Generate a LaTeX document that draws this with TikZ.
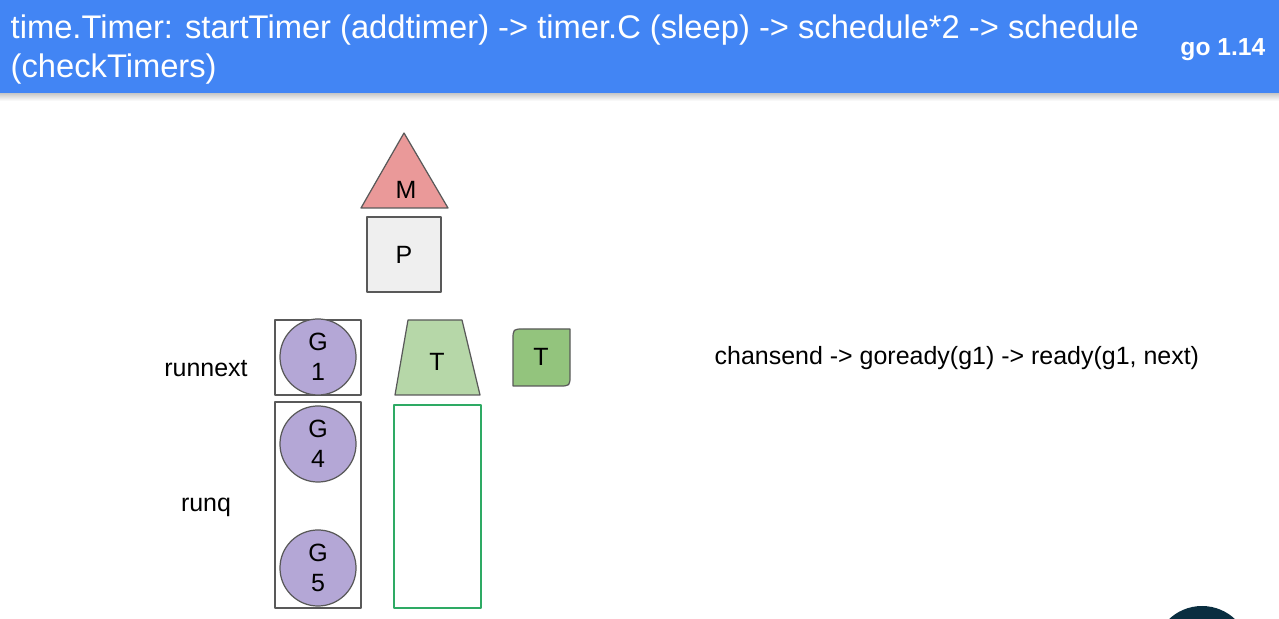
\documentclass[tikz,border=0pt]{standalone}
\usepackage{fontspec}
\setmainfont{Liberation Sans}
\usetikzlibrary{shapes.geometric}
\definecolor{hdrblue}{RGB}{66,133,244}
\definecolor{mred}{RGB}{234,153,153}
\definecolor{pgray}{RGB}{239,239,239}
\definecolor{gpurple}{RGB}{180,167,214}
\definecolor{tgreen}{RGB}{182,215,168}
\definecolor{tdark}{RGB}{147,196,125}
\definecolor{qgreen}{RGB}{46,170,100}
\definecolor{edge}{RGB}{89,89,89}
\definecolor{dot}{RGB}{10,46,64}
\begin{document}
\begin{tikzpicture}[x=0.01cm, y=-0.01cm, font=\fontsize{7.1}{8.6}\selectfont, line join=round, line cap=round,
  outl/.style={draw=edge, line width=0.35pt},
  gor/.style={outl, circle, fill=gpurple, minimum size=0.76cm, inner sep=0pt, align=center},
  lbl/.style={inner sep=0pt}]
\useasboundingbox (0,0) rectangle (1279,619);
% header
\shade[top color=black!25, bottom color=white] (0,92) rectangle (1279,101);
\fill[hdrblue] (0,0) rectangle (1279,93);
\node[lbl, anchor=north west, align=left, text=white, font=\fontsize{9.3}{11}\selectfont] (title) at (10,14)
  {time.Timer: startTimer (addtimer) -> timer.C (sleep) -> schedule*2 -> schedule\\(checkTimers)};
\node[lbl, anchor=east, text=white, font=\fontsize{7}{8}\selectfont\bfseries] (ver) at (1266,50) {go 1.14};
% M and P
\path
(404,133) coordinate (Mt)
(361,208) coordinate (Ml)
(448,208) coordinate (Mr);
\draw[outl, fill=mred] (Mt)--(Mr)--(Ml)--cycle;
\node[lbl] (M) at (406,190) {M};
\draw[outl, fill=pgray] (367,217) rectangle (441,292);
\node[lbl] (P) at (404,255) {P};
% local run queue
\draw[outl] (275,320) rectangle (361,395);
\draw[outl] (275,402) rectangle (361,608);
\foreach \n/\y in {1/357,4/444,5/568}\node[gor] (g\n) at (318,\y) {G\\\n};
\node[lbl] (runnext) at (206,369) {runnext};
\node[lbl] (runq) at (206,507) {runq};
% timers
\draw[outl, fill=tgreen] (408,320)--(462,320)--(480,395)--(395,395)--cycle;
\node[lbl] (t1) at (437,362) {T};
\draw[line width=0.5pt, draw=qgreen] (394,405) rectangle (481,608);
\draw[outl, fill=tdark] (513,386)--(513,340) .. controls (513,329) .. (524,329)--(570,329)--(570,375) .. controls (570,386) .. (559,386)--cycle;
\node[lbl] (t2) at (541,357) {T};
\node[lbl, anchor=west] (note) at (714,358) {chansend -> goready(g1) -> ready(g1, next)};
% corner mark
\begin{scope}
\clip (0,0) rectangle (1279,619);
\fill[dot] (1202,654) circle (48);
\end{scope}
\end{tikzpicture}
\end{document}
